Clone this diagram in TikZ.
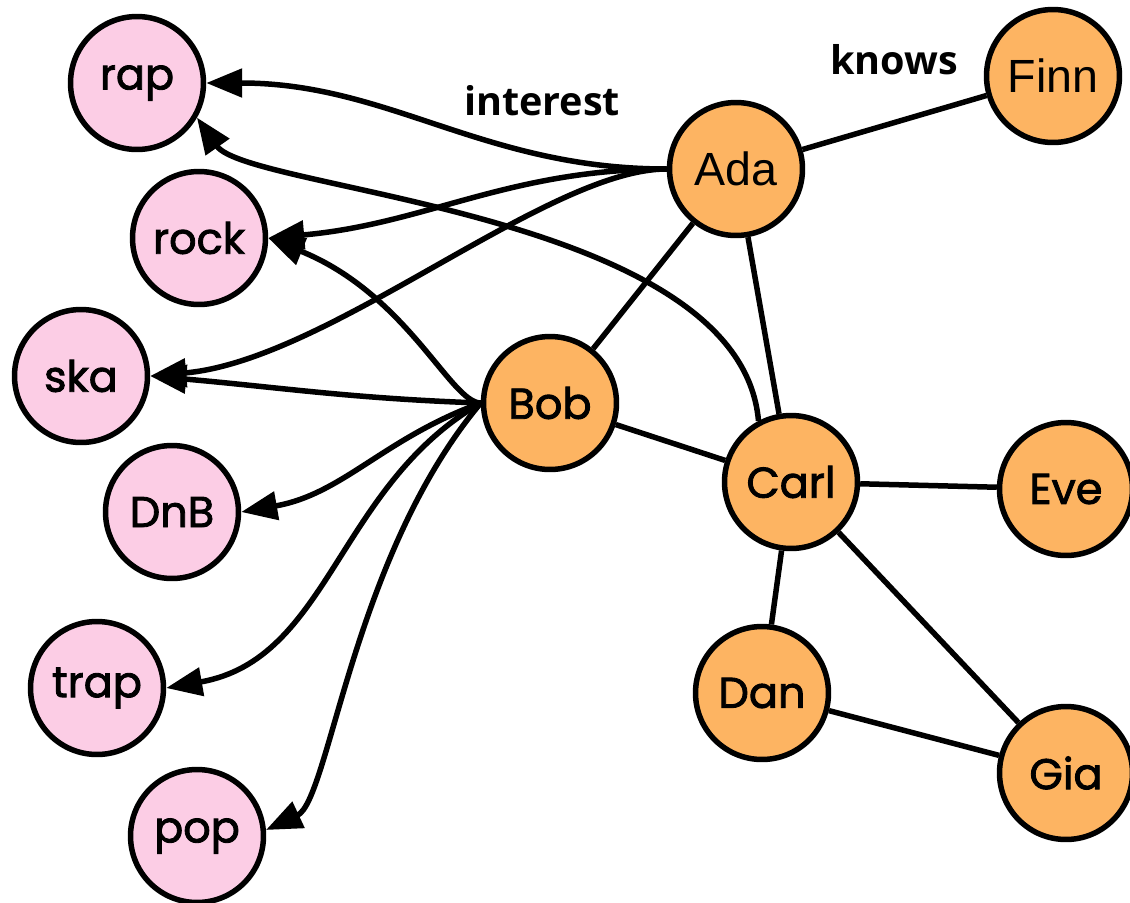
\documentclass[tikz,border=0pt]{standalone}
\usepackage{fontspec}
\setmainfont{Poppins}
\newfontfamily\nodefont{Poppins}[FakeBold=2]
\newfontfamily\arialfont{Liberation Sans}
\newfontfamily\tagfont{Open Sans}
\usetikzlibrary{arrows.meta}
\definecolor{genrefill}{HTML}{FCCDE5}
\definecolor{personfill}{HTML}{FDB462}
\begin{document}
\begin{tikzpicture}[x=0.02cm,y=0.02cm,
  vertex/.style={circle,draw=black,line width=0.11cm,minimum size=2.66cm,
    inner sep=0pt,font=\nodefont\fontsize{24.5}{28}\selectfont},
  genre/.style={vertex,fill=genrefill},
  person/.style={vertex,fill=personfill},
  arialtext/.style={font=\arialfont\fontsize{26.5}{30}\selectfont},
  link/.style={line width=0.11cm},
  likes/.style={link,-{Triangle[length=0.72cm,width=0.56cm]}},
  tag/.style={font=\tagfont\bfseries\fontsize{22.5}{26}\selectfont}]
\useasboundingbox (0,0) rectangle (1130,-903);

% genres
\node[genre] (rap)  at (137,-83)  {rap};
\node[genre] (rock) at (199,-238) {rock};
\node[genre] (ska)  at (81,-376)  {ska};
\node[genre] (dnb)  at (172,-512) {DnB};
\node[genre] (trap) at (97,-688)  {trap};
\node[genre] (pop)  at (197,-836) {pop};

% people
\node[person,arialtext] (ada)  at (736,-169) {Ada};
\node[person,arialtext] (finn) at (1053,-76) {Finn};
\node[person] (bob)  at (550,-403)  {Bob};
\node[person] (carl) at (791,-482)  {Carl};
\node[person] (eve)  at (1066,-489) {Eve};
\node[person] (dan)  at (762,-693)  {Dan};
\node[person] (gia)  at (1066,-773) {Gia};

% edge-type labels
\node[tag] (interestlabel) at (542,-101) {interest};
\node[tag] (knowslabel)    at (894,-60)  {knows};

% knows relations
\draw[link] (ada) -- (finn);
\draw[link] (ada) -- (bob);
\draw[link] (ada) -- (carl);
\draw[link] (bob) -- (carl);
\draw[link] (carl) -- (eve);
\draw[link] (carl) -- (dan);
\draw[link] (carl) -- (gia);
\draw[link] (dan) -- (gia);

% interest relations
\draw[likes] (ada.west) to[out=180,in=0] (rap.east);
\draw[likes] (ada.west) to[out=180,in=5] (rock.east);
\draw[likes] (ada.west) .. controls +(180:120) and +(5:180) .. (ska.east);
\draw[likes] (carl.118) .. controls +(95:210) and +(-55:90) .. (rap.-30);
\draw[likes] (bob.west) .. controls +(180:30) and +(-22:150) .. (rock.east);
\draw[likes] (bob.west) to[out=178,in=-5] (ska.east);
\draw[likes] (bob.west) to[out=200,in=10] (dnb.east);
\draw[likes] (bob.west) to[out=210,in=10] (trap.east);
\draw[likes] (bob.west) .. controls +(230:200) and +(25:70) .. (pop.5);
\end{tikzpicture}
\end{document}
